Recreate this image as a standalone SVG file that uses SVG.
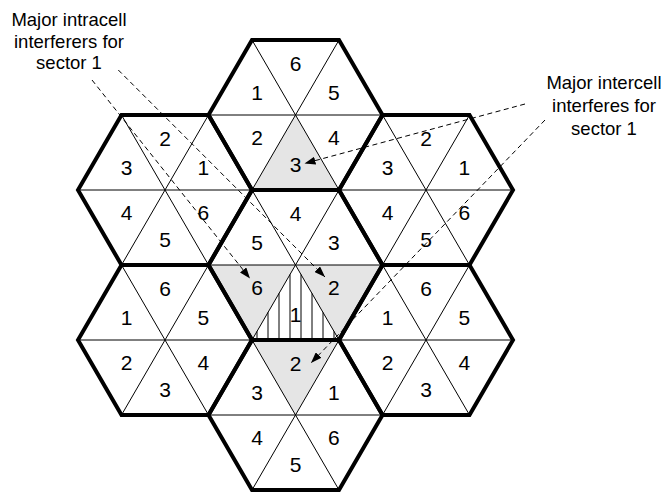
<svg xmlns="http://www.w3.org/2000/svg" xmlns:xlink="http://www.w3.org/1999/xlink" width="661" height="494" viewBox="0 0 661 494">
<style>
.bg{fill:#ffffff}
.gray{fill:#e5e5e5;stroke:none}
.thin{fill:none;stroke:#000;stroke-width:1}
.bold{fill:none;stroke:#000;stroke-width:4;stroke-linejoin:miter}
.hatch{fill:none;stroke:#000;stroke-width:1}
.num{font-family:"Liberation Sans",Arial,Helvetica,sans-serif;font-size:21px;fill:#000;text-anchor:middle}
.note{font-family:"Liberation Sans",Arial,Helvetica,sans-serif;font-size:18.5px;fill:#000;text-anchor:middle}
.conn{fill:none;stroke:#000;stroke-width:1;stroke-dasharray:5,3.5}
</style>
<defs>
<marker id="arrow" markerUnits="userSpaceOnUse" markerWidth="11" markerHeight="8" refX="11" refY="4" orient="auto">
<path d="M0,0 L11,4 L0,8 z" fill="#000"/>
</marker>
<path id="diag" d="M-87,0 H87 M-43.5,-75 L43.5,75 M43.5,-75 L-43.5,75"/>
<polygon id="hexo" points="-87,0 -43.5,-75 43.5,-75 87,0 43.5,75 -43.5,75"/>
</defs>
<rect class="bg" x="0" y="0" width="661" height="494"/>

<g id="hex-top" transform="translate(295.5,115)">
<polygon class="gray" points="0,0 -43.5,75 43.5,75"/>
<use xlink:href="#diag" class="thin"/>
<use xlink:href="#hexo" class="bold"/>
<text class="num" x="0" y="-44">6</text>
<text class="num" x="-38.3" y="-15">1</text>
<text class="num" x="38.3" y="-15">5</text>
<text class="num" x="-38.3" y="30">2</text>
<text class="num" x="38.3" y="30">4</text>
<text class="num" x="0" y="57">3</text>
</g>

<g id="hex-upper-left" transform="translate(165,190)">
<use xlink:href="#diag" class="thin"/>
<use xlink:href="#hexo" class="bold"/>
<text class="num" x="0" y="-44">2</text>
<text class="num" x="-38.3" y="-15">3</text>
<text class="num" x="38.3" y="-15">1</text>
<text class="num" x="-38.3" y="30">4</text>
<text class="num" x="38.3" y="30">6</text>
<text class="num" x="0" y="57">5</text>
</g>

<g id="hex-upper-right" transform="translate(426,190)">
<use xlink:href="#diag" class="thin"/>
<use xlink:href="#hexo" class="bold"/>
<text class="num" x="0" y="-44">2</text>
<text class="num" x="-38.3" y="-15">3</text>
<text class="num" x="38.3" y="-15">1</text>
<text class="num" x="-38.3" y="30">4</text>
<text class="num" x="38.3" y="30">6</text>
<text class="num" x="0" y="57">5</text>
</g>

<g id="hex-center" transform="translate(295.5,265)">
<polygon class="gray" points="0,0 -87,0 -43.5,75"/>
<polygon class="gray" points="0,0 87,0 43.5,75"/>
<path class="hatch" d="M-5.5,75 V9.5 M5.5,75 V9.5 M-16.5,75 V28.4 M16.5,75 V28.4 M-27.5,75 V47.4 M27.5,75 V47.4 M-38.5,75 V66.4 M38.5,75 V66.4"/>
<use xlink:href="#diag" class="thin"/>
<use xlink:href="#hexo" class="bold"/>
<text class="num" x="0" y="-44">4</text>
<text class="num" x="-38.3" y="-15">5</text>
<text class="num" x="38.3" y="-15">3</text>
<text class="num" x="-38.3" y="30">6</text>
<text class="num" x="38.3" y="30">2</text>
<text class="num" x="0" y="57">1</text>
</g>

<g id="hex-lower-left" transform="translate(165,340)">
<use xlink:href="#diag" class="thin"/>
<use xlink:href="#hexo" class="bold"/>
<text class="num" x="0" y="-44">6</text>
<text class="num" x="-38.3" y="-15">1</text>
<text class="num" x="38.3" y="-15">5</text>
<text class="num" x="-38.3" y="30">2</text>
<text class="num" x="38.3" y="30">4</text>
<text class="num" x="0" y="57">3</text>
</g>

<g id="hex-lower-right" transform="translate(426,340)">
<use xlink:href="#diag" class="thin"/>
<use xlink:href="#hexo" class="bold"/>
<text class="num" x="0" y="-44">6</text>
<text class="num" x="-38.3" y="-15">1</text>
<text class="num" x="38.3" y="-15">5</text>
<text class="num" x="-38.3" y="30">2</text>
<text class="num" x="38.3" y="30">4</text>
<text class="num" x="0" y="57">3</text>
</g>

<g id="hex-bottom" transform="translate(295.5,415)">
<polygon class="gray" points="0,0 -43.5,-75 43.5,-75"/>
<use xlink:href="#diag" class="thin"/>
<use xlink:href="#hexo" class="bold"/>
<text class="num" x="0" y="-44">2</text>
<text class="num" x="-38.3" y="-15">3</text>
<text class="num" x="38.3" y="-15">1</text>
<text class="num" x="-38.3" y="30">4</text>
<text class="num" x="38.3" y="30">6</text>
<text class="num" x="0" y="57">5</text>
</g>

<g id="label-intracell">
<text class="note" x="69" y="26">Major intracell</text>
<text class="note" x="69" y="47.6">interferers for</text>
<text class="note" x="69" y="69.2">sector 1</text>
</g>

<g id="label-intercell">
<text class="note" x="604" y="89">Major intercell</text>
<text class="note" x="604" y="112">interferes for</text>
<text class="note" x="604" y="135">sector 1</text>
</g>

<g id="connectors">
<path class="conn" d="M92,80 L250,278.5" marker-end="url(#arrow)"/>
<path class="conn" d="M118.3,70 L325,277" marker-end="url(#arrow)"/>
<path class="conn" d="M525,104 L304.5,163.5" marker-end="url(#arrow)"/>
<path class="conn" d="M545,120 L311,363" marker-end="url(#arrow)"/>
</g>
</svg>
